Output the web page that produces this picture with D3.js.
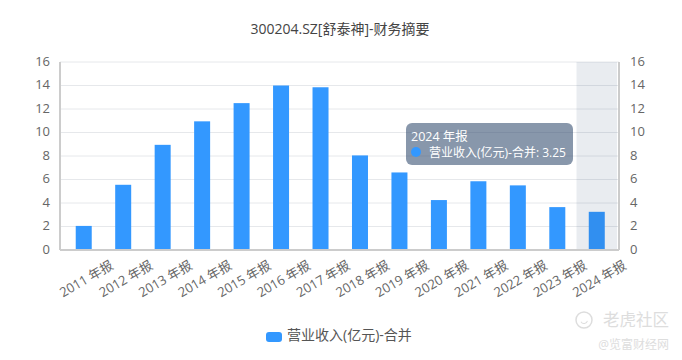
<!DOCTYPE html>
<html>
<head>
<meta charset="utf-8">
<script src="https://cdn.jsdelivr.net/npm/d3@7"></script>
<style type="text/css">
  body{
    background: white;
    margin: 0px;
    font-family: 'Open Sans', 'Noto Sans CJK SC', sans-serif;
  }
  svg{ display: block; }
  .axisText{ fill: #666; font-size: 13px; }
</style>
</head>
<body>
<script>
var categories = ['2011 年报','2012 年报','2013 年报','2014 年报','2015 年报','2016 年报','2017 年报','2018 年报','2019 年报','2020 年报','2021 年报','2022 年报','2023 年报','2024 年报'];
var revenue = [2.05,5.55,8.95,10.95,12.5,14.0,13.85,8.05,6.6,4.25,5.85,5.5,3.65,3.25];
var yTicks = [0,2,4,6,8,10,12,14,16];
var seriesName = '营业收入(亿元)-合并';
var titleText = '300204.SZ[舒泰神]-财务摘要';
var hoverIndex = 13;

var width = 682, height = 360;
var margin = {top: 62, right: 63, bottom: 110, left: 60};
var plotLeft = margin.left, plotRight = width - margin.right;
var plotTop = margin.top, plotBottom = height - margin.bottom;

var svg = d3.select('body').append('svg')
    .attr('width', width)
    .attr('height', height);

var x = d3.scaleBand().domain(categories).range([64, 616.5]);
var y = d3.scaleLinear().domain([0,16]).range([plotBottom, plotTop]);

svg.append('text')
    .attr('x', 340).attr('y', 34)
    .attr('text-anchor', 'middle')
    .attr('fill', '#444')
    .style('font-size', '14px')
    .text(titleText);

// grid
svg.append('g').selectAll('line').data(yTicks.slice(1)).join('line')
    .attr('x1', plotLeft).attr('x2', plotRight)
    .attr('y1', function(d) { return y(d); })
    .attr('y2', function(d) { return y(d); })
    .attr('stroke', '#e6e8eb');

// bars
var barW = 16;
svg.append('g').selectAll('rect').data(revenue).join('rect')
    .attr('x', function(d,i) { return x(categories[i]) + x.bandwidth()/2 - barW/2; })
    .attr('y', function(d) { return y(d); })
    .attr('width', barW)
    .attr('height', function(d) { return plotBottom - y(d); })
    .attr('fill', '#3398ff');

// hover shadow
svg.append('rect')
    .attr('x', x(categories[hoverIndex]) - 0.5)
    .attr('y', plotTop)
    .attr('width', plotRight - 2 - x(categories[hoverIndex]) + 0.5)
    .attr('height', plotBottom - plotTop)
    .attr('fill', 'rgba(40,70,110,0.1)');

// axis lines
var axisColor = '#ccc';
svg.append('line').attr('x1', plotLeft).attr('x2', plotLeft).attr('y1', plotTop).attr('y2', plotBottom)
    .attr('stroke', axisColor).attr('stroke-width', 2);
svg.append('line').attr('x1', plotRight).attr('x2', plotRight).attr('y1', plotTop).attr('y2', plotBottom)
    .attr('stroke', axisColor).attr('stroke-width', 2);
svg.append('line').attr('x1', plotLeft).attr('x2', plotRight).attr('y1', plotBottom).attr('y2', plotBottom)
    .attr('stroke', axisColor).attr('stroke-width', 2);

// y labels, both sides
svg.append('g').selectAll('text').data(yTicks).join('text')
    .attr('class', 'axisText')
    .attr('x', plotLeft - 10)
    .attr('y', function(d) { return y(d) - 1; })
    .attr('dy', '0.35em')
    .attr('text-anchor', 'end')
    .text(function(d) { return d; });
svg.append('g').selectAll('text').data(yTicks).join('text')
    .attr('class', 'axisText')
    .attr('x', plotRight + 11)
    .attr('y', function(d) { return y(d) - 1; })
    .attr('dy', '0.35em')
    .text(function(d) { return d; });

// x labels
svg.append('g').selectAll('text').data(categories).join('text')
    .attr('class', 'axisText')
    .attr('text-anchor', 'end')
    .attr('transform', function(d) {
      return 'translate(' + (x(d) + x.bandwidth()/2 + 26) + ',' + (plotBottom + 10) + ') rotate(-30)';
    })
    .attr('dy', '0.7em')
    .text(function(d) { return d; });

// legend
svg.append('rect')
    .attr('x', 266).attr('y', 332)
    .attr('width', 16).attr('height', 10).attr('rx', 3)
    .attr('fill', '#3398ff');
svg.append('text')
    .attr('x', 287).attr('y', 340)
    .attr('fill', '#555')
    .style('font-size', '14px')
    .text(seriesName);

// tooltip
var tip = svg.append('g').attr('transform', 'translate(406,123)');
tip.append('rect')
    .attr('width', 167).attr('height', 42).attr('rx', 6)
    .attr('fill', 'rgba(50,75,110,0.58)');
tip.append('text')
    .attr('x', 5).attr('y', 18)
    .attr('fill', '#fff')
    .style('font-size', '12.5px')
    .text(categories[hoverIndex]);
tip.append('circle')
    .attr('cx', 10).attr('cy', 29).attr('r', 5)
    .attr('fill', '#3398ff');
tip.append('text')
    .attr('x', 23).attr('y', 34)
    .attr('fill', '#fff')
    .style('font-size', '12px')
    .text(seriesName + ': ' + revenue[hoverIndex]);

// watermark
svg.append('circle')
    .attr('cx', 584).attr('cy', 320).attr('r', 8)
    .attr('fill', 'none').attr('stroke', '#ddd').attr('stroke-width', 1.5);
svg.append('path')
    .attr('d', d3.arc()({innerRadius: 3, outerRadius: 4, startAngle: 1.8, endAngle: 4.2}))
    .attr('transform', 'translate(584,320)')
    .attr('fill', '#ddd');
svg.append('text')
    .attr('x', 669).attr('y', 326)
    .attr('text-anchor', 'end')
    .attr('fill', '#ddd')
    .style('font-size', '16.5px')
    .text('老虎社区');
svg.append('text')
    .attr('x', 669).attr('y', 349)
    .attr('text-anchor', 'end')
    .attr('fill', '#ddd')
    .style('font-size', '12px')
    .text('@览富财经网');
</script>
</body>
</html>
